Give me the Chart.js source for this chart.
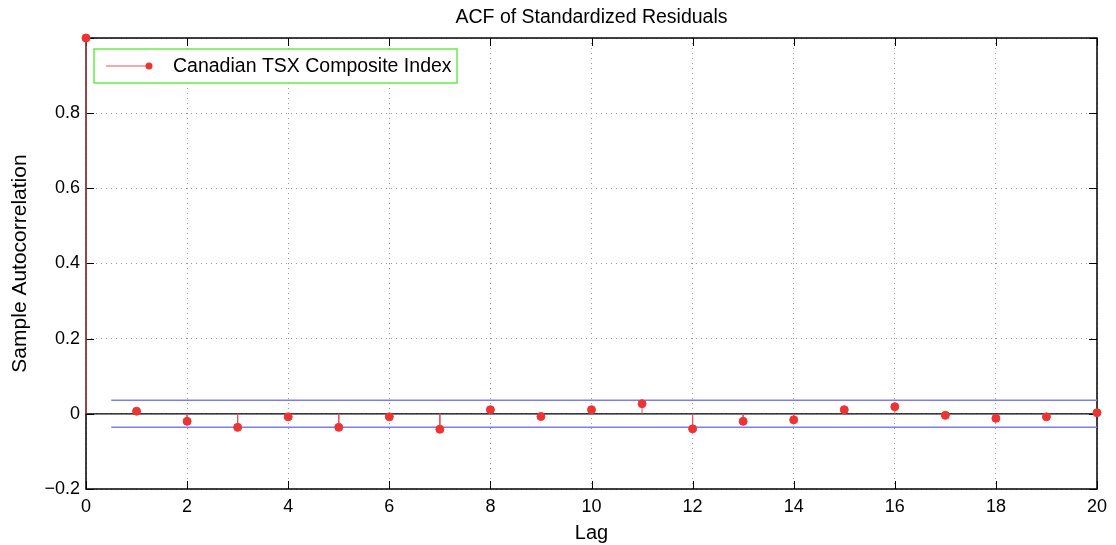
<!DOCTYPE html>
<html>
<head>
<meta charset="utf-8">
<script src="https://cdn.jsdelivr.net/npm/chart.js@4/dist/chart.umd.min.js"></script>
<style>
  html, body { margin: 0; padding: 0; background: #fff; }
  #wrap { width: 1116px; height: 545px; }
</style>
</head>
<body>
<div id="wrap"><canvas id="chart"></canvas></div>
<script>
  const lags = [0, 1, 2, 3, 4, 5, 6, 7, 8, 9, 10, 11, 12, 13, 14, 15, 16, 17, 18, 19, 20];
  const acf = [1.0, 0.007, -0.020, -0.036, -0.008, -0.036, -0.008, -0.041, 0.011, -0.007, 0.011,
               0.027, -0.040, -0.020, -0.016, 0.011, 0.019, -0.004, -0.012, -0.008, 0.003];
  const bound = 0.036;
  const boundLags = [0.5, 20];
  const xTicks = [0, 2, 4, 6, 8, 10, 12, 14, 16, 18, 20];
  const yTicks = [-0.2, 0, 0.2, 0.4, 0.6, 0.8, 1.0];
  const seriesName = 'Canadian TSX Composite Index';

  const red = '#ee3333';
  const stemRed = '#e85555';
  const blue = '#7c7cf8';
  const font = '"Liberation Sans", Arial, Helvetica, sans-serif';

  // stems as broken line segments (null splits them)
  const stems = [];
  lags.forEach((l, i) => {
    stems.push({x: l, y: 0}, {x: l, y: acf[i]}, {x: l, y: null});
  });

  const frame = {
    id: 'frame',
    beforeDatasetsDraw(chart) {
      const {ctx, chartArea: a, scales: {x, y}} = chart;
      ctx.save();
      ctx.strokeStyle = '#000';
      ctx.lineWidth = 1;
      // inside tick marks
      ctx.beginPath();
      xTicks.forEach(t => {
        const px = Math.round(x.getPixelForValue(t)) + 0.5;
        ctx.moveTo(px, a.bottom); ctx.lineTo(px, a.bottom - 8);
        ctx.moveTo(px, a.top); ctx.lineTo(px, a.top + 8);
      });
      yTicks.forEach(t => {
        const py = Math.round(y.getPixelForValue(t)) + 0.5;
        ctx.moveTo(a.left, py); ctx.lineTo(a.left + 8, py);
        ctx.moveTo(a.right, py); ctx.lineTo(a.right - 8, py);
      });
      ctx.stroke();
      ctx.lineWidth = 1.5;
      ctx.strokeRect(a.left, a.top, a.right - a.left, a.bottom - a.top);
      ctx.restore();
    },
    afterDraw(chart) {
      const {ctx, chartArea: a} = chart;
      ctx.save();
      // title
      ctx.fillStyle = '#000';
      ctx.font = '19.5px ' + font;
      ctx.textAlign = 'center';
      ctx.textBaseline = 'middle';
      ctx.fillText('ACF of Standardized Residuals', (a.left + a.right) / 2, 18);

      // legend box
      const lx = 94, ly = 49, lw = 363, lh = 34;
      ctx.fillStyle = '#fff';
      ctx.fillRect(lx, ly, lw, lh);
      ctx.strokeStyle = '#66ee44';
      ctx.lineWidth = 1.5;
      ctx.strokeRect(lx, ly, lw, lh);
      ctx.strokeStyle = stemRed;
      ctx.lineWidth = 1;
      ctx.beginPath();
      ctx.moveTo(106, ly + lh / 2); ctx.lineTo(149, ly + lh / 2);
      ctx.stroke();
      ctx.fillStyle = red;
      ctx.beginPath();
      ctx.arc(149, ly + lh / 2, 3.5, 0, Math.PI * 2);
      ctx.fill();
      ctx.fillStyle = '#000';
      ctx.font = '19.5px ' + font;
      ctx.textAlign = 'left';
      ctx.fillText(seriesName, 173, ly + lh / 2 + 1);
      ctx.restore();
    }
  };

  new Chart(document.getElementById('chart'), {
    type: 'scatter',
    data: {
      datasets: [
        {
          label: seriesName,
          data: lags.map((l, i) => ({x: l, y: acf[i]})),
          backgroundColor: red,
          borderColor: red,
          pointRadius: 4,
          showLine: false,
          order: 0,
        },
        {
          label: 'stems',
          data: stems,
          showLine: true,
          spanGaps: false,
          borderColor: stemRed,
          borderWidth: 1,
          pointRadius: 0,
          order: 1,
        },
        {
          label: 'zero',
          data: [{x: 0, y: 0}, {x: 20, y: 0}],
          showLine: true,
          borderColor: '#000',
          borderWidth: 1.2,
          pointRadius: 0,
          order: 2,
        },
        {
          label: 'upper',
          data: boundLags.map(l => ({x: l, y: bound})),
          showLine: true,
          borderColor: blue,
          borderWidth: 1.5,
          pointRadius: 0,
          order: 3,
        },
        {
          label: 'lower',
          data: boundLags.map(l => ({x: l, y: -bound})),
          showLine: true,
          borderColor: blue,
          borderWidth: 1.5,
          pointRadius: 0,
          order: 3,
        },
      ]
    },
    options: {
      responsive: true,
      maintainAspectRatio: false,
      animation: false,
      clip: false,
      layout: {padding: {top: 38, right: 19, left: 0, bottom: 0}},
      plugins: {
        legend: {display: false},
        title: {display: false},
        tooltip: {enabled: false},
      },
      scales: {
        x: {
          type: 'linear',
          min: 0,
          max: 20,
          afterFit: s => { s.height = 56; },
          afterBuildTicks: s => { s.ticks = xTicks.map(v => ({value: v})); },
          ticks: {
            color: '#000',
            padding: 7,
            font: {family: font, size: 18},
            maxRotation: 0,
            callback: v => String(v),
          },
          grid: {
            drawTicks: false,
            color: '#999',
            lineWidth: 1,
          },
          border: {display: false, dash: [1, 4]},
          title: {
            display: true,
            text: 'Lag',
            color: '#000',
            font: {family: font, size: 20},
            padding: {top: 0, bottom: 0},
          },
        },
        y: {
          type: 'linear',
          min: -0.2,
          max: 1.0,
          afterFit: s => { s.width = 86; },
          afterBuildTicks: s => { s.ticks = yTicks.map(v => ({value: v})); },
          ticks: {
            color: '#000',
            padding: 6,
            font: {family: font, size: 18},
            callback: v => {
              if (v > 0.95) return '';
              if (Math.abs(v) < 1e-9) return '0';
              const s = Math.abs(v).toFixed(1);
              return v < 0 ? '\u2212' + s : s;
            },
          },
          grid: {
            drawTicks: false,
            color: '#999',
            lineWidth: 1,
          },
          border: {display: false, dash: [1, 4]},
          title: {
            display: true,
            text: 'Sample Autocorrelation',
            color: '#000',
            font: {family: font, size: 21},
            padding: {top: 8, bottom: 0},
          },
        },
      },
    },
    plugins: [frame],
  });
</script>
</body>
</html>
